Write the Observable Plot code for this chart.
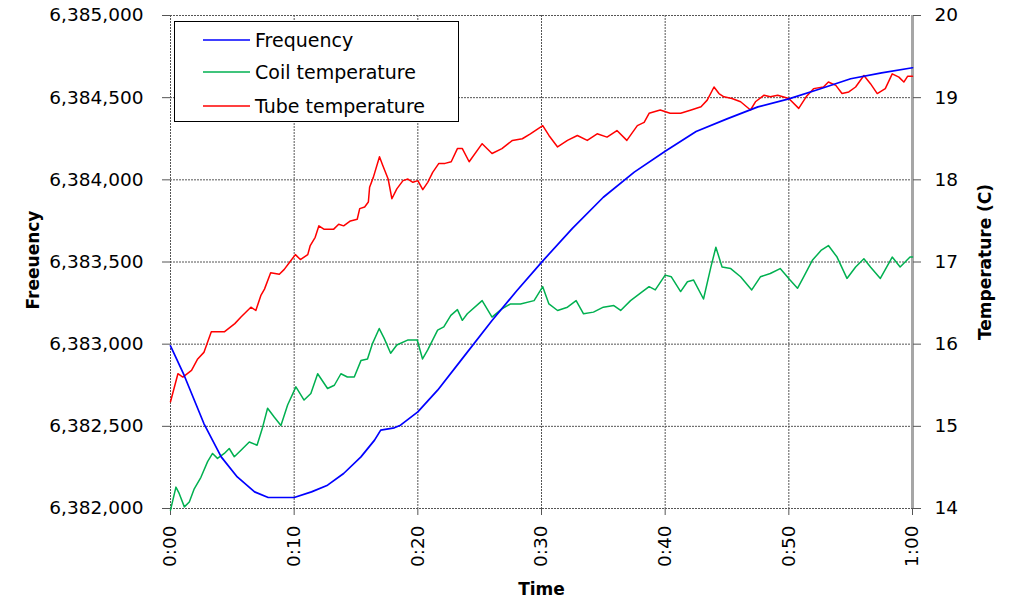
<!DOCTYPE html>
<html>
<head>
<meta charset="utf-8">
<script src="https://cdn.jsdelivr.net/npm/d3@7"></script>
<script src="https://cdn.jsdelivr.net/npm/@observablehq/plot@0.6"></script>
<style>
  body { margin: 0; background: #fff; }
  #wrap { position: relative; width: 1020px; height: 603px; font-family: "DejaVu Sans", sans-serif; }
  #legend { position: absolute; left: 174px; top: 21px; width: 285px; height: 101px; border: 1.5px solid #000; background: #fff; box-sizing: border-box; }
  .lg-row { position: absolute; left: 0; height: 24px; display: flex; align-items: center; font-size: 19px; color: #000; white-space: nowrap; }
  .lg-row svg { margin-left: 28px; margin-right: 5px; }
</style>
</head>
<body>
<div id="wrap"></div>
<script>
// ---- Data (time in minutes) ----
const xTicks = [0, 10, 20, 30, 40, 50, 60];
const freqTicks = [6382000, 6382500, 6383000, 6383500, 6384000, 6384500, 6385000];
const tempTicks = [14, 15, 16, 17, 18, 19, 20];

const seriesNames = ["Frequency", "Coil temperature", "Tube temperature"];
const seriesColors = ["#0000ff", "#00b050", "#ff0000"];

const freqTime = [0, 1.1, 2.7, 4.1, 5.4, 6.8, 7.9, 10, 11.4, 12.7, 14, 15.4, 16.5, 17, 18.1, 18.6, 20, 21.6, 23.5, 26, 28, 30, 32.5, 35, 37.5, 40, 42.5, 45, 47.5, 50, 52.5, 55, 57.5, 60];
const freqValue = [6382990, 6382811, 6382517, 6382314, 6382192, 6382101, 6382067, 6382067, 6382101, 6382142, 6382213, 6382314, 6382416, 6382477, 6382491, 6382507, 6382588, 6382720, 6382903, 6383144, 6383325, 6383498, 6383705, 6383894, 6384047, 6384174, 6384294, 6384371, 6384444, 6384493, 6384553, 6384615, 6384651, 6384682];

const coilTime = [0, 0.44, 0.71, 1.12, 1.52, 1.92, 2.46, 3.0, 3.4, 3.8, 4.35, 4.75, 5.16, 5.7, 6.37, 7.0, 7.45, 7.85, 8.4, 8.93, 9.47, 10.14, 10.8, 11.35, 11.9, 12.7, 13.25, 13.78, 14.3, 14.86, 15.4, 15.93, 16.34, 16.88, 17.28, 17.8, 18.3, 19.17, 19.95, 20.38, 20.8, 21.6, 22.1, 22.67, 23.2, 23.6, 24.0, 25.2, 26.0, 26.8, 27.5, 28.3, 29.4, 30.1, 30.6, 31.3, 32.1, 32.8, 33.4, 34.2, 35.0, 35.85, 36.4, 37.2, 38.0, 38.7, 39.2, 40.0, 40.5, 41.25, 41.8, 42.3, 43.1, 43.7, 44.1, 44.6, 45.3, 46.1, 47.0, 47.7, 48.5, 49.3, 50.1, 50.7, 51.2, 51.9, 52.6, 53.2, 53.9, 54.7, 55.4, 56.07, 56.6, 57.4, 58.36, 59.0, 59.8, 60];
const coilValue = [13.98, 14.26, 14.18, 14.02, 14.08, 14.24, 14.38, 14.57, 14.67, 14.61, 14.67, 14.73, 14.63, 14.71, 14.81, 14.77, 14.99, 15.22, 15.11, 15.01, 15.26, 15.48, 15.32, 15.40, 15.64, 15.46, 15.50, 15.64, 15.60, 15.60, 15.80, 15.82, 16.01, 16.19, 16.07, 15.89, 15.99, 16.05, 16.05, 15.82, 15.93, 16.17, 16.21, 16.35, 16.42, 16.29, 16.37, 16.53, 16.33, 16.43, 16.49, 16.49, 16.53, 16.70, 16.49, 16.41, 16.45, 16.53, 16.37, 16.39, 16.45, 16.47, 16.41, 16.53, 16.62, 16.70, 16.66, 16.84, 16.82, 16.64, 16.76, 16.78, 16.55, 16.94, 17.18, 16.94, 16.92, 16.82, 16.66, 16.82, 16.86, 16.92, 16.78, 16.68, 16.82, 17.02, 17.14, 17.20, 17.06, 16.80, 16.94, 17.04, 16.94, 16.80, 17.06, 16.94, 17.06, 17.06];

const tubeTime = [0, 0.6, 1.0, 1.7, 2.2, 2.7, 3.3, 4.35, 5.2, 5.7, 6.5, 6.9, 7.3, 7.6, 8.1, 8.8, 9.2, 9.6, 10.1, 10.5, 11.1, 11.3, 11.7, 12.0, 12.4, 13.2, 13.6, 14.0, 14.55, 15.1, 15.3, 15.7, 16.0, 16.1, 16.4, 16.9, 17.15, 17.6, 17.9, 18.3, 18.8, 19.2, 19.6, 20.0, 20.4, 20.8, 21.2, 21.7, 22.2, 22.7, 23.2, 23.6, 24.15, 25.2, 26.0, 26.8, 27.65, 28.45, 29.1, 30.1, 30.6, 31.3, 32.1, 32.9, 33.7, 34.5, 35.3, 36.1, 36.9, 37.75, 38.3, 38.7, 39.6, 40.4, 41.25, 42.1, 42.9, 43.4, 43.95, 44.35, 44.75, 45.4, 46.1, 46.9, 47.3, 48.0, 48.5, 49.1, 50.0, 50.8, 51.4, 52.0, 52.8, 53.2, 53.8, 54.3, 54.85, 55.4, 56.07, 56.6, 57.15, 57.8, 58.36, 58.9, 59.3, 59.6, 60];
const tubeValue = [15.30, 15.64, 15.60, 15.68, 15.82, 15.90, 16.15, 16.15, 16.25, 16.33, 16.45, 16.41, 16.59, 16.67, 16.87, 16.85, 16.91, 16.99, 17.09, 17.03, 17.09, 17.20, 17.30, 17.44, 17.40, 17.40, 17.46, 17.44, 17.50, 17.52, 17.65, 17.67, 17.73, 17.91, 18.03, 18.28, 18.18, 18.01, 17.77, 17.89, 17.99, 18.01, 17.97, 17.99, 17.88, 17.97, 18.09, 18.20, 18.20, 18.22, 18.38, 18.38, 18.22, 18.44, 18.32, 18.38, 18.48, 18.50, 18.56, 18.66, 18.54, 18.40, 18.48, 18.54, 18.48, 18.56, 18.52, 18.60, 18.48, 18.66, 18.70, 18.81, 18.85, 18.81, 18.81, 18.85, 18.89, 18.97, 19.13, 19.05, 19.01, 18.99, 18.95, 18.85, 18.95, 19.03, 19.01, 19.03, 18.99, 18.87, 19.01, 19.11, 19.13, 19.19, 19.15, 19.05, 19.07, 19.13, 19.27, 19.17, 19.05, 19.11, 19.29, 19.25, 19.19, 19.26, 19.26];

// ---- Build tables ----
const tempToFreq = t => 6382000 + (t - 14) * 500;
const freqToTemp = f => 14 + (f - 6382000) / 500;
const freqData = freqTime.map((t, i) => ({t, v: freqValue[i]}));
const coilData = coilTime.map((t, i) => ({t, v: tempToFreq(coilValue[i])}));
const tubeData = tubeTime.map((t, i) => ({t, v: tempToFreq(tubeValue[i])}));
const fmtTime = m => `${Math.floor(m / 60)}:${String(m % 60).padStart(2, "0")}`;

const gridStyle = {stroke: "#555", strokeOpacity: 1, strokeWidth: 1, strokeDasharray: "2,1"};

const chart = Plot.plot({
  width: 1020,
  height: 603,
  marginLeft: 170,
  marginRight: 108,
  marginTop: 15,
  marginBottom: 95,
  style: {fontFamily: "DejaVu Sans, sans-serif", fontSize: "18.5px", color: "#000", background: "#fff"},
  x: {domain: [0, 60], label: null},
  y: {domain: [6382000, 6385000], label: null},
  marks: [
    Plot.gridX(xTicks, gridStyle),
    Plot.gridY(freqTicks, gridStyle),
    Plot.ruleX([60], {stroke: "#a6a6a6", strokeWidth: 3}),
    Plot.axisY(freqTicks, {anchor: "left", tickFormat: d3.format(","), tickSize: 8, tickPadding: 19, stroke: "#555"}),
    Plot.axisY(tempTicks.map(tempToFreq), {anchor: "right", tickFormat: f => String(Math.round(freqToTemp(f))), tickSize: 8, tickPadding: 14, stroke: "#555"}),
    Plot.axisX(xTicks, {anchor: "bottom", tickFormat: fmtTime, tickRotate: -90, tickSize: 7, tickPadding: 10, stroke: "#555"}),
    Plot.line(coilData, {x: "t", y: "v", stroke: seriesColors[1], strokeWidth: 1.5}),
    Plot.line(tubeData, {x: "t", y: "v", stroke: seriesColors[2], strokeWidth: 1.5}),
    Plot.line(freqData, {x: "t", y: "v", stroke: seriesColors[0], strokeWidth: 1.7}),
    Plot.text(["Time"], {frameAnchor: "bottom", dy: 81, textAnchor: "middle", lineAnchor: "middle", fontWeight: "bold", fontSize: 17}),
    Plot.text(["Freeuency"], {frameAnchor: "left", dx: -137, dy: -2, textAnchor: "middle", lineAnchor: "middle", rotate: -90, fontWeight: "bold", fontSize: 17}),
    Plot.text(["Temperature (C)"], {frameAnchor: "right", dx: 73, textAnchor: "middle", lineAnchor: "middle", rotate: -90, fontWeight: "bold", fontSize: 17})
  ]
});

const wrap = document.getElementById("wrap");
wrap.appendChild(chart);

// ---- Legend ----
const legend = document.createElement("div");
legend.id = "legend";
const rowTops = [6, 38, 72];
seriesNames.forEach((name, i) => {
  const row = document.createElement("div");
  row.className = "lg-row";
  row.style.top = rowTops[i] + "px";
  row.innerHTML = `<svg width="47" height="4"><line x1="0" y1="2" x2="47" y2="2" stroke="${seriesColors[i]}" stroke-width="1.6"/></svg><span>${name}</span>`;
  legend.appendChild(row);
});
wrap.appendChild(legend);
</script>
</body>
</html>
